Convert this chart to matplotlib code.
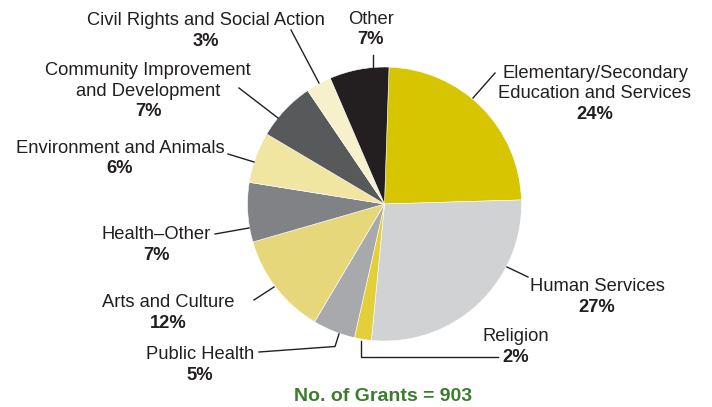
import matplotlib
matplotlib.use("Agg")
import matplotlib.pyplot as plt
from matplotlib.lines import Line2D

# ---- data ----
categories = ["Elementary/Secondary\nEducation and Services", "Human Services", "Religion",
              "Public Health", "Arts and Culture", "Health\u2013Other", "Environment and Animals",
              "Community Improvement\nand Development", "Civil Rights and Social Action", "Other"]
shares = [24, 27, 2, 5, 12, 7, 6, 7, 3, 7]
colors = ["#D6C500", "#D1D2D4", "#E2CF3A", "#A7A9AC", "#E6D87A", "#808285",
          "#F0E6A2", "#58595B", "#F6F0CC", "#231F20"]
total_grants = 903

# ---- layout (image pixel coordinates, origin top-left) ----
W, H = 712, 407
cx, cy, R = 384.5, 204.0, 137.0
# label anchor: (center x, baseline of first line)
label_pos = [(595, 78), (597, 291), (516, 341), (200, 359), (168, 307), (156, 239),
             (120, 153), (148, 75), (206, 25), (371, 24)]
leaders = [
    [(473, 98), (495, 73)],
    [(507, 267), (528, 277)],
    [(361, 341), (361, 357), (498, 357)],
    [(339, 334), (335, 346.5), (259, 352)],
    [(274, 287), (254, 300)],
    [(249, 228), (215, 234)],
    [(254, 162), (228, 154)],
    [(278, 118), (239, 88)],
    [(319, 83), (291, 30)],
    [(373, 67), (373, 55)],
]
line_gap = 20.5

fig = plt.figure(figsize=(W / 100, H / 100), dpi=100)
ax = fig.add_axes([(cx - R) / W, (H - cy - R) / H, 2 * R / W, 2 * R / H])
ax.pie(shares, colors=colors, startangle=88.1, counterclock=False, radius=1,
       wedgeprops=dict(edgecolor="white", linewidth=0.4))
ax.set_xlim(-1, 1)
ax.set_ylim(-1, 1)
ax.set_aspect("equal")
ax.axis("off")

def fx(x):
    return x / W

def fy(y):
    return 1 - y / H

font = ["Liberation Sans", "DejaVu Sans"]
txt_color = "#231F20"
for name, val, (x, y), pts in zip(categories, shares, label_pos, leaders):
    lines = name.split("\n")
    for i, ln in enumerate(lines):
        fig.text(fx(x), fy(y + i * line_gap), ln, ha="center", va="baseline",
                 fontsize=13.2, family=font, color=txt_color)
    fig.text(fx(x), fy(y + len(lines) * line_gap), f"{val}%", ha="center", va="baseline",
             fontsize=13.2, family=font, color=txt_color, fontweight="bold")
    xs = [fx(p[0]) for p in pts]
    ys = [fy(p[1]) for p in pts]
    fig.add_artist(Line2D(xs, ys, transform=fig.transFigure, color=txt_color, lw=1.0))

fig.text(fx(383), fy(401), f"No. of Grants = {total_grants}", ha="center", va="baseline",
         fontsize=14, family=font, color="#3A7D2C", fontweight="bold")

fig.savefig("out.png", dpi=100, facecolor="white")
